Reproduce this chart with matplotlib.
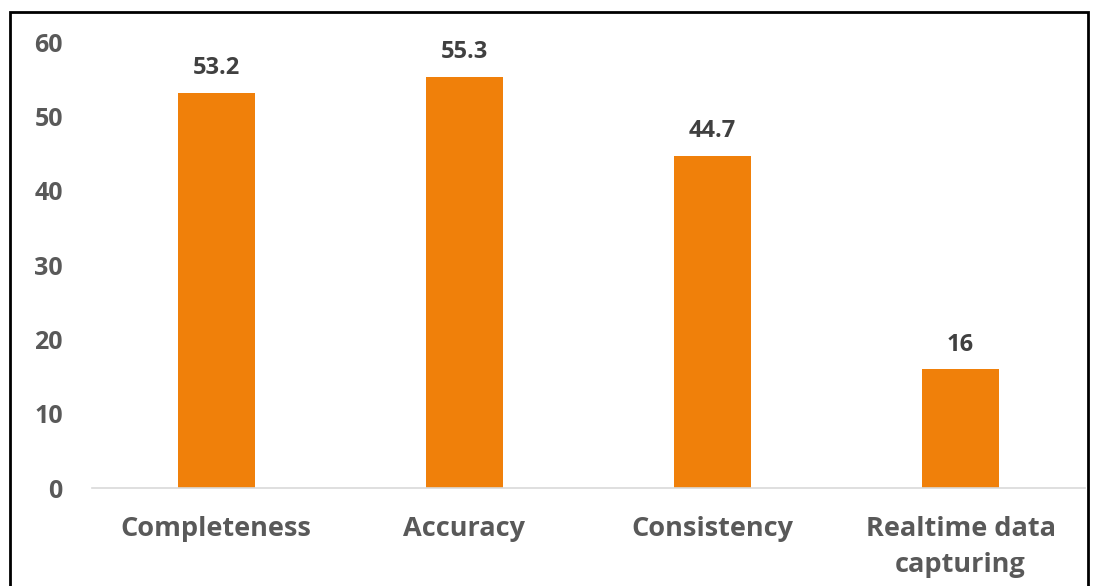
import matplotlib.pyplot as plt
import matplotlib.patches as patches
import numpy as np

categories = ['Completeness', 'Accuracy', 'Consistency', 'Realtime data\ncapturing']
values = [53.2, 55.3, 44.7, 16]
value_labels = ['53.2', '55.3', '44.7', '16']

plt.rcParams['font.family'] = ['Open Sans', 'DejaVu Sans']

fig = plt.figure(figsize=(10.99, 5.86), dpi=100)
ax = fig.add_axes([0.0837, 0.1672, 0.9033, 0.7611])

x = np.arange(len(categories))
bars = ax.bar(x, values, width=0.31, color='#F0800A')

for b, lab in zip(bars, value_labels):
    ax.annotate(lab, (b.get_x() + b.get_width() / 2, b.get_height()),
                xytext=(0, 9), textcoords='offset points',
                ha='center', va='bottom', fontsize=17, fontweight='bold',
                color='#404040')

ax.set_xlim(-0.5, 3.5)
ax.set_ylim(0, 60)
ax.set_yticks(range(0, 61, 10))
ax.set_xticks(x)
ax.set_xticklabels(categories, fontsize=19.5, fontweight='bold', color='#595959',
                   linespacing=1.5)
for t in ax.get_yticklabels():
    t.set_fontsize(18)
    t.set_fontweight('bold')
    t.set_color('#595959')
ax.tick_params(axis='both', length=0)
ax.tick_params(axis='x', pad=20)
ax.tick_params(axis='y', pad=21)

for s in ['top', 'right', 'left']:
    ax.spines[s].set_visible(False)
ax.spines['bottom'].set_color('#D9D9D9')
ax.spines['bottom'].set_linewidth(1.2)

# outer frame
fig.patches.append(patches.Rectangle((10 / 1099, -0.1), 1078 / 1099, 1.1 - 12 / 586,
                                     transform=fig.transFigure, fill=False,
                                     edgecolor='black', linewidth=2))

fig.savefig('out.png', dpi=100)
